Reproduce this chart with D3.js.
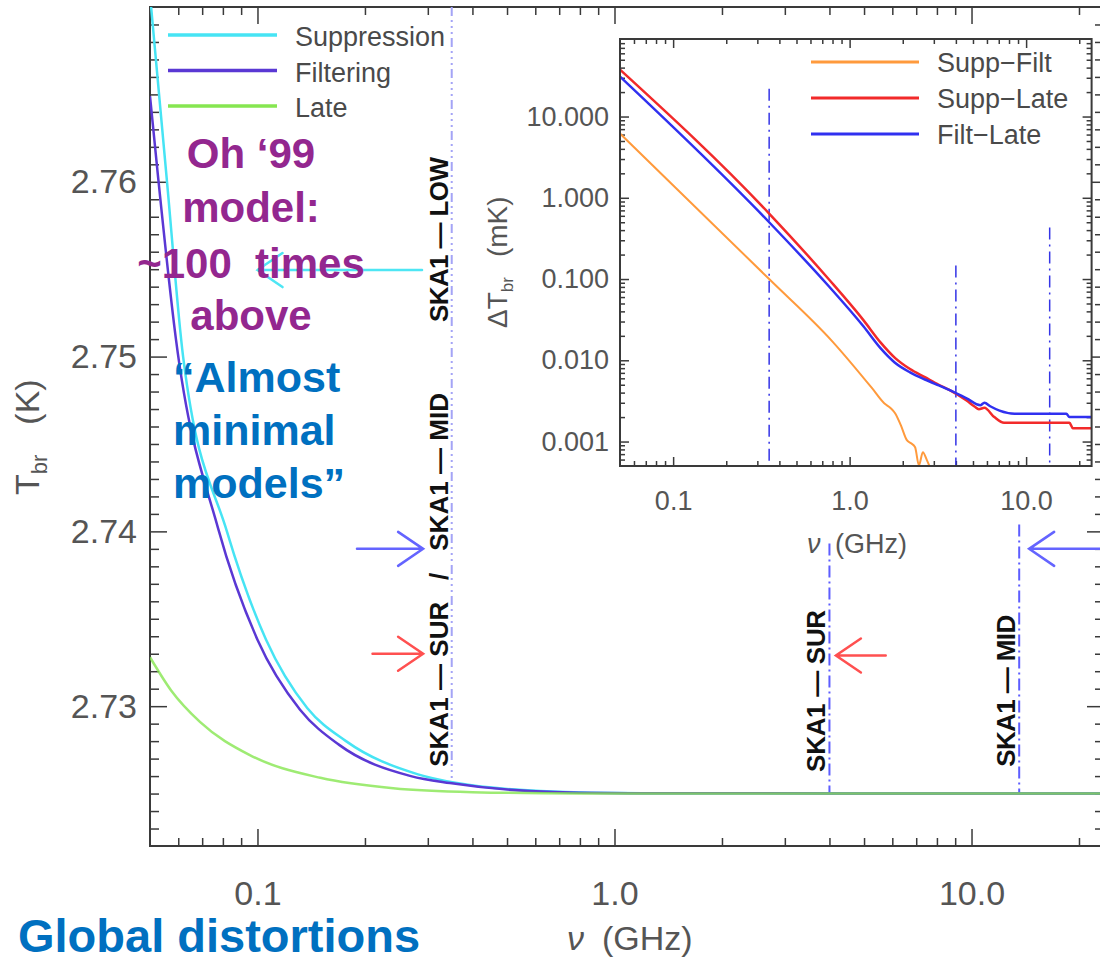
<!DOCTYPE html>
<meta charset="utf-8">
<style>
  body { margin: 0; background: #fff; }
  text { font-family: "Liberation Sans", Arial, sans-serif; }
</style>
<script src="https://d3js.org/d3.v7.min.js"></script>
<svg width="1100" height="964"></svg>
<script>
// main panel: T_br (K) vs nu (GHz)
const suppression = [[0.05, 2.7707], [0.0558, 2.7600], [0.0619, 2.7500], [0.0821, 2.7400], [0.1057, 2.7338],
  [0.1378, 2.7299], [0.177, 2.7280], [0.2816, 2.7261], [0.362, 2.7256], [0.62, 2.72515], [1.2, 2.72502], [23.5, 2.7250]];
const filtering = [[0.05, 2.7649], [0.0526, 2.7604], [0.0591, 2.7510], [0.0775, 2.7402], [0.1, 2.7338],
  [0.1316, 2.7298], [0.169, 2.7278], [0.269, 2.7260], [0.346, 2.7256], [0.58, 2.72515], [1.1, 2.72502], [23.5, 2.7250]];
const late = [[0.05, 2.7328], [0.0573, 2.7309], [0.069, 2.7291], [0.0952, 2.7272], [0.15, 2.7259],
  [0.24, 2.7253], [0.4, 2.72508], [0.8, 2.72501], [23.5, 2.7250]];

// inset: Delta T_br (mK)
const suppFilt = [[0.05, 6.18], [0.35, 0.1], [0.8, 0.017], [1.34, 0.00453], [1.57, 0.00296], [1.71, 0.00257],
  [1.81, 0.00223], [1.95, 0.00159], [2.11, 0.00104], [2.23, 0.00095], [2.35, 0.00085], [2.47, 0.00051],
  [2.60, 0.00074], [2.74, 0.00059], [2.89, 0.00045]];
const suppLate = [[0.05, 37.8], [0.35, 0.64], [0.76, 0.10], [1.2, 0.031], [1.5, 0.0165], [1.8, 0.0108],
  [2.2, 0.0078], [2.67, 0.0062], [3.2, 0.0050], [3.69, 0.0043], [4.6, 0.0032], [5.1, 0.0027], [5.4, 0.0025],
  [5.8, 0.0026], [6.6, 0.0020], [7.5, 0.0017], [12.0, 0.0017], [17.6, 0.0017], [18.4, 0.00146], [23.5, 0.00146]];
const filtLate = [[0.05, 31.0], [0.35, 0.50], [0.76, 0.082], [1.2, 0.026], [1.5, 0.0140], [1.8, 0.0094],
  [2.2, 0.0071], [2.67, 0.0058], [3.2, 0.0049], [3.69, 0.0043], [4.6, 0.0034], [5.5, 0.0028], [5.8, 0.0030],
  [6.3, 0.0027], [7.07, 0.0024], [8.6, 0.0022], [16.9, 0.0022], [17.6, 0.0020], [23.5, 0.0020]];

// SKA bands (GHz) and where their marker lines run
const bandsGHz = [0.35, 4.0, 13.6];
const mainBandTop = [2.7700, 2.7393, 2.7404];
const mainBandBottom = [2.7256, 2.7250, 2.7250];
const insetBandTop = [22, 0.147, 0.43];

const xMajor = [0.1, 1, 10];
const xTickLabels = ['0.1', '1.0', '10.0'];
const yMajor = [2.73, 2.74, 2.75, 2.76];
const yTickLabels = ['2.73', '2.74', '2.75', '2.76'];
const insetYMajor = [0.001, 0.01, 0.1, 1, 10];
const insetYLabels = ['0.001', '0.010', '0.100', '1.000', '10.000'];

const svg = d3.select('svg');
svg.append('rect').attr('width', 1100).attr('height', 964).attr('fill', '#fff');

const x = d3.scaleLog().domain([0.05, 23.5]).range([150, 1104]);
const y = d3.scaleLinear().domain([2.722, 2.770]).range([846, 7]);

function logTicks(lo, hi, skip) {
  const out = [];
  for (let e = -4; e <= 2; e++) {
    for (let k = 1; k < 10; k++) {
      const v = +(k * Math.pow(10, e)).toPrecision(3);
      if (v > lo * 1.0001 && v < hi * 0.9999 && !skip.some(s => Math.abs(s - v) / v < 1e-6)) out.push(v);
    }
  }
  return out;
}

function styleAxis(g, size) {
  g.select('.domain').remove();
  g.attr('font-size', size).attr('font-family', '"Liberation Sans", Arial, sans-serif')
    .attr('color', '#3a3a3a');
  g.selectAll('line').attr('stroke-width', 1.5);
  g.selectAll('text').attr('fill', '#555');
}

// ---------- main axes ----------
const xMinor = logTicks(0.05, 23.5, xMajor);
const yMinor = d3.range(2723, 2770).filter(v => v % 10 !== 0).map(v => v / 1000);

svg.append('g').attr('transform', 'translate(0,846)')
  .call(d3.axisBottom(x).tickValues(xMajor).tickSize(-17).tickPadding(35).tickFormat((d, i) => xTickLabels[i]))
  .call(g => styleAxis(g, 34));
svg.append('g').attr('transform', 'translate(0,846)')
  .call(d3.axisBottom(x).tickValues(xMinor).tickSize(-8).tickFormat(''))
  .call(g => styleAxis(g, 34));
svg.append('g').attr('transform', 'translate(0,7)')
  .call(d3.axisTop(x).tickValues(xMajor).tickSize(-17).tickFormat(''))
  .call(g => styleAxis(g, 34));
svg.append('g').attr('transform', 'translate(0,7)')
  .call(d3.axisTop(x).tickValues(xMinor).tickSize(-8).tickFormat(''))
  .call(g => styleAxis(g, 34));

svg.append('g').attr('transform', 'translate(150,0)')
  .call(d3.axisLeft(y).tickValues(yMajor).tickSize(-17).tickPadding(13).tickFormat((d, i) => yTickLabels[i]))
  .call(g => styleAxis(g, 34));
svg.append('g').attr('transform', 'translate(150,0)')
  .call(d3.axisLeft(y).tickValues(yMinor).tickSize(-9).tickFormat(''))
  .call(g => styleAxis(g, 34));
svg.append('g').attr('transform', 'translate(1104,0)')
  .call(d3.axisRight(y).tickValues(yMajor).tickSize(-17).tickFormat(''))
  .call(g => styleAxis(g, 34));
svg.append('g').attr('transform', 'translate(1104,0)')
  .call(d3.axisRight(y).tickValues(yMinor).tickSize(-9).tickFormat(''))
  .call(g => styleAxis(g, 34));

svg.append('rect').attr('x', 150).attr('y', 7).attr('width', 954).attr('height', 839)
  .attr('fill', 'none').attr('stroke', '#3a3a3a').attr('stroke-width', 2);

// axis titles
const xt = svg.append('text').attr('x', 567).attr('y', 950).attr('font-size', 34).attr('fill', '#555');
xt.append('tspan').attr('font-style', 'italic').text('ν');
xt.append('tspan').attr('x', 602).text('(GHz)');

const yt = svg.append('text').attr('transform', 'translate(39,495) rotate(-90)')
  .attr('font-size', 34).attr('fill', '#555');
yt.append('tspan').text('T');
yt.append('tspan').attr('font-size', 22).attr('dy', 8).text('br');
yt.append('tspan').attr('dy', -8).attr('dx', 30).text('(K)');

// ---------- main curves ----------
svg.append('clipPath').attr('id', 'clipMain').append('rect')
  .attr('x', 150).attr('y', 7).attr('width', 954).attr('height', 839);

const line = d3.line().x(d => x(d[0])).y(d => y(d[1])).curve(d3.curveMonotoneX);
const plot = svg.append('g').attr('clip-path', 'url(#clipMain)');

// band markers
const bandColors = ['#a4a4f6', '#5d5dff', '#5d5dff'];
const bandDash = ['9,4,2,4,2,4,2,4', '12,4,2,4', '12,4,2,4'];
bandsGHz.forEach((nu, i) => {
  plot.append('line')
    .attr('x1', x(nu)).attr('x2', x(nu))
    .attr('y1', y(mainBandTop[i])).attr('y2', y(mainBandBottom[i]))
    .attr('stroke', bandColors[i]).attr('stroke-width', 2)
    .attr('stroke-dasharray', bandDash[i]);
});

plot.append('path').datum(suppression).attr('d', line)
  .attr('fill', 'none').attr('stroke', '#46e4f4').attr('stroke-width', 2.5);
plot.append('path').datum(filtering).attr('d', line)
  .attr('fill', 'none').attr('stroke', '#5a38d4').attr('stroke-width', 2.5);
plot.append('path').datum(late).attr('d', line)
  .attr('fill', 'none').attr('stroke', '#86e650').attr('stroke-width', 2.5).attr('stroke-opacity', 0.8);

// legend
const legendNames = ['Suppression', 'Filtering', 'Late'];
const legendColors = ['#46e4f4', '#5a38d4', '#86e650'];
legendNames.forEach((name, i) => {
  const ly = 35 + i * 35.5;
  svg.append('line').attr('x1', 168).attr('x2', 277).attr('y1', ly).attr('y2', ly)
    .attr('stroke', legendColors[i]).attr('stroke-width', 3.5);
  svg.append('text').attr('x', 295).attr('y', ly + 11).attr('font-size', 27)
    .attr('fill', '#4a4a4a').text(name);
});

// band labels (rotated)
const bandLabels = [
  { nu: 0.35, text: 'SKA1 — LOW', from: 2.75198, to: 2.76142 },
  { nu: 0.35, text: 'SKA1 — SUR   /   SKA1 — MID', from: 2.72653, to: 2.74792 },
  { nu: 4.0, text: 'SKA1 — SUR', from: 2.72624, to: 2.73551 },
  { nu: 13.6, text: 'SKA1 — MID', from: 2.72653, to: 2.73523 }
];
bandLabels.forEach(b => {
  svg.append('text')
    .attr('transform', `translate(${x(b.nu) - 4},${y(b.from)}) rotate(-90)`)
    .attr('font-size', 26).attr('font-weight', 'bold').attr('fill', '#111')
    .attr('textLength', y(b.from) - y(b.to)).attr('lengthAdjust', 'spacing')
    .style('white-space', 'pre')
    .text(b.text);
});

// arrows
const arrows = [
  { from: 0.289, to: 0.1, T: 2.75495, color: '#4ee6f4' },
  { from: 0.19, to: 0.291, T: 2.7390, color: '#6464ff' },
  { from: 0.21, to: 0.291, T: 2.7330, color: '#ff5050' },
  { from: 5.75, to: 4.17, T: 2.7329, color: '#ff5050' },
  { from: 40, to: 14.5, T: 2.7390, color: '#6464ff' }
];
arrows.forEach(a => {
  const x0 = x(a.from), x1 = x(a.to), yy = y(a.T);
  const back = x1 > x0 ? -25 : 25;
  svg.append('path')
    .attr('d', `M${x0},${yy}L${x1},${yy}M${x1 + back},${yy - 17}L${x1},${yy}L${x1 + back},${yy + 17}`)
    .attr('fill', 'none').attr('stroke', a.color).attr('stroke-width', 2.5).attr('stroke-linecap', 'round');
});

// ---------- inset ----------
const xi = d3.scaleLog().domain([0.05, 23.5]).range([620, 1091.6]);
const yi = d3.scaleLog().domain([0.0005, 90]).range([466, 39]);

svg.append('rect').attr('x', 620).attr('y', 39).attr('width', 471.6).attr('height', 427)
  .attr('fill', '#fff');

const yiMinor = logTicks(0.0005, 90, insetYMajor);
svg.append('g').attr('transform', 'translate(0,466)')
  .call(d3.axisBottom(xi).tickValues(xMajor).tickSize(-9).tickPadding(25).tickFormat((d, i) => xTickLabels[i]))
  .call(g => styleAxis(g, 27));
svg.append('g').attr('transform', 'translate(0,466)')
  .call(d3.axisBottom(xi).tickValues(xMinor).tickSize(-5).tickFormat(''))
  .call(g => styleAxis(g, 27));
svg.append('g').attr('transform', 'translate(0,39)')
  .call(d3.axisTop(xi).tickValues(xMajor).tickSize(-9).tickFormat(''))
  .call(g => styleAxis(g, 27));
svg.append('g').attr('transform', 'translate(0,39)')
  .call(d3.axisTop(xi).tickValues(xMinor).tickSize(-5).tickFormat(''))
  .call(g => styleAxis(g, 27));
svg.append('g').attr('transform', 'translate(620,0)')
  .call(d3.axisLeft(yi).tickValues(insetYMajor).tickSize(-9).tickPadding(11).tickFormat((d, i) => insetYLabels[i]))
  .call(g => styleAxis(g, 27));
svg.append('g').attr('transform', 'translate(620,0)')
  .call(d3.axisLeft(yi).tickValues(yiMinor).tickSize(-5).tickFormat(''))
  .call(g => styleAxis(g, 27));
svg.append('g').attr('transform', 'translate(1091.6,0)')
  .call(d3.axisRight(yi).tickValues(insetYMajor).tickSize(-9).tickFormat(''))
  .call(g => styleAxis(g, 27));
svg.append('g').attr('transform', 'translate(1091.6,0)')
  .call(d3.axisRight(yi).tickValues(yiMinor).tickSize(-5).tickFormat(''))
  .call(g => styleAxis(g, 27));

svg.append('clipPath').attr('id', 'clipInset').append('rect')
  .attr('x', 620).attr('y', 39).attr('width', 471.6).attr('height', 427);
const inset = svg.append('g').attr('clip-path', 'url(#clipInset)');

bandsGHz.forEach((nu, i) => {
  inset.append('line')
    .attr('x1', xi(nu)).attr('x2', xi(nu))
    .attr('y1', yi(insetBandTop[i])).attr('y2', 466)
    .attr('stroke', '#3434e6').attr('stroke-width', 1.5)
    .attr('stroke-dasharray', '12,5,2,5');
});

const iline = d3.line().x(d => xi(d[0])).y(d => yi(d[1])).curve(d3.curveMonotoneX);
inset.append('path').datum(suppFilt).attr('d', iline)
  .attr('fill', 'none').attr('stroke', '#ff9a3c').attr('stroke-width', 2);
inset.append('path').datum(suppLate).attr('d', iline)
  .attr('fill', 'none').attr('stroke', '#f22a2a').attr('stroke-width', 2.5);
inset.append('path').datum(filtLate).attr('d', iline)
  .attr('fill', 'none').attr('stroke', '#3030f0').attr('stroke-width', 2.5);

svg.append('rect').attr('x', 620).attr('y', 39).attr('width', 471.6).attr('height', 427)
  .attr('fill', 'none').attr('stroke', '#3a3a3a').attr('stroke-width', 2);

const insetNames = ['Supp−Filt', 'Supp−Late', 'Filt−Late'];
const insetColors = ['#ff9a3c', '#f22a2a', '#3030f0'];
insetNames.forEach((name, i) => {
  const ly = 62 + i * 36;
  svg.append('line').attr('x1', 811).attr('x2', 919).attr('y1', ly).attr('y2', ly)
    .attr('stroke', insetColors[i]).attr('stroke-width', 3);
  svg.append('text').attr('x', 937).attr('y', ly + 10).attr('font-size', 27)
    .attr('fill', '#4a4a4a').text(name);
});

const ixt = svg.append('text').attr('x', 807).attr('y', 553).attr('font-size', 27).attr('fill', '#555');
ixt.append('tspan').attr('font-style', 'italic').text('ν');
ixt.append('tspan').attr('x', 835).text('(GHz)');

const iyt = svg.append('text').attr('transform', 'translate(507,328) rotate(-90)')
  .attr('font-size', 28).attr('fill', '#555');
iyt.append('tspan').text('ΔT');
iyt.append('tspan').attr('font-size', 17).attr('dy', 6).text('br');
iyt.append('tspan').attr('dy', -6).attr('dx', 20).text('(mK)');

// ---------- overlaid slide text ----------
const purpleLines = ['Oh ‘99', 'model:', '~100  times', 'above'];
purpleLines.forEach((t, i) => {
  svg.append('text').attr('x', 251).attr('y', [168, 222, 278, 330][i])
    .attr('text-anchor', 'middle').attr('font-size', 42).attr('font-weight', 'bold')
    .attr('fill', '#93278f').style('white-space', 'pre').text(t);
});
const blueLines = ['“Almost', 'minimal', 'models”'];
blueLines.forEach((t, i) => {
  svg.append('text').attr('x', 173).attr('y', 392 + i * 53)
    .attr('font-size', 43).attr('font-weight', 'bold').attr('fill', '#0070c0').text(t);
});
svg.append('text').attr('x', 18).attr('y', 952)
  .attr('font-size', 47).attr('font-weight', 'bold').attr('fill', '#0070c0').text('Global distortions');
</script>
